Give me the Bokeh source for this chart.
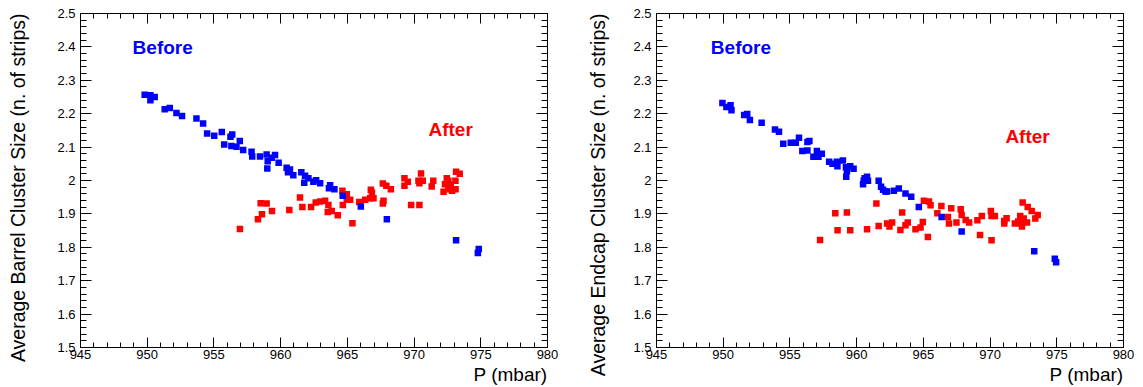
import math
from bokeh.plotting import figure
from bokeh.layouts import row
from bokeh.models import (Range1d, LinearAxis, SingleIntervalTicker, Label, Title,
                          CustomJSTickFormatter)
from bokeh.embed import file_html
from bokeh.resources import INLINE

# ---------------- data ----------------
barrel_before_p = [949.81, 950.24, 950.56, 950.24, 951.31, 951.69, 952.19, 952.61, 953.69, 954.19,
                   954.49, 955.02, 955.59, 956.37, 956.24, 955.77, 956.31, 956.69, 956.94, 957.19,
                   957.82, 957.87, 958.45, 958.95, 959.58, 959.33, 959.03, 959.00, 959.85, 960.45,
                   960.70, 960.55, 960.95, 961.55, 961.83, 962.08, 961.77, 962.45, 962.66, 962.96,
                   963.71, 963.62, 964.03, 964.65, 966.01, 967.96, 973.15, 974.85, 974.78]
barrel_before_cs = [2.257, 2.255, 2.250, 2.240, 2.213, 2.217, 2.202, 2.193, 2.186, 2.171,
                    2.141, 2.134, 2.145, 2.138, 2.131, 2.108, 2.103, 2.101, 2.118, 2.091,
                    2.086, 2.072, 2.072, 2.078, 2.076, 2.068, 2.058, 2.036, 2.053, 2.038,
                    2.033, 2.025, 2.016, 2.025, 2.014, 2.007, 1.993, 1.996, 2.001, 1.992,
                    1.986, 1.977, 1.974, 1.954, 1.922, 1.884, 1.821, 1.795, 1.783]

barrel_after_p = [956.95, 958.30, 958.60, 958.50, 958.95, 959.35, 960.65, 961.45, 961.63, 962.28,
                  962.63, 962.96, 963.33, 963.58, 963.53, 963.83, 964.28, 964.63, 964.96, 964.66,
                  965.21, 964.96, 965.38, 965.89, 966.34, 966.71, 966.96, 966.76, 966.84, 967.66,
                  967.92, 968.26, 967.71, 967.66, 969.28, 969.53, 969.28, 969.78, 970.40, 970.52,
                  970.33, 970.65, 970.40, 971.44, 971.32, 972.45, 972.57, 972.32, 972.75, 972.57,
                  972.21, 973.11, 972.85, 973.15, 973.42, 973.10]
barrel_after_cs = [1.855, 1.884, 1.899, 1.932, 1.931, 1.909, 1.912, 1.949, 1.921, 1.921,
                   1.934, 1.937, 1.939, 1.927, 1.906, 1.909, 1.896, 1.969, 1.959, 1.927,
                   1.942, 1.942, 1.872, 1.936, 1.942, 1.947, 1.947, 1.972, 1.964, 1.991,
                   1.984, 1.974, 1.939, 1.931, 2.007, 1.996, 1.984, 1.927, 1.927, 2.021,
                   1.999, 1.999, 1.992, 1.999, 1.982, 2.007, 1.999, 1.989, 1.987, 1.974,
                   1.966, 1.974, 1.969, 2.026, 2.020, 1.999]

endcap_before_p = [949.94, 950.24, 950.55, 950.62, 951.57, 951.80, 952.00, 952.88, 953.88, 954.18,
                   954.50, 955.06, 955.44, 955.68, 956.31, 956.46, 955.93, 956.31, 957.02, 957.39,
                   956.76, 957.14, 957.94, 958.19, 958.52, 958.56, 958.97, 959.20, 959.52, 959.77,
                   959.27, 959.22, 960.78, 960.60, 960.53, 960.48, 960.85, 961.65, 961.83, 961.98,
                   962.28, 962.16, 962.79, 963.16, 963.66, 964.09, 964.66, 966.37, 967.87, 973.31,
                   974.85, 974.95]
endcap_before_cs = [2.232, 2.220, 2.225, 2.210, 2.196, 2.199, 2.181, 2.173, 2.153, 2.146,
                    2.110, 2.113, 2.113, 2.128, 2.115, 2.118, 2.088, 2.090, 2.088, 2.080,
                    2.071, 2.071, 2.056, 2.050, 2.056, 2.043, 2.060, 2.040, 2.043, 2.035,
                    2.028, 2.011, 2.011, 2.007, 1.999, 1.989, 1.999, 1.999, 1.981, 1.972,
                    1.967, 1.967, 1.969, 1.976, 1.961, 1.951, 1.921, 1.891, 1.847, 1.788,
                    1.766, 1.755]

endcap_after_p = [957.26, 958.40, 959.27, 958.57, 959.52, 960.78, 961.48, 961.65, 962.28, 962.46,
                  962.66, 963.28, 963.41, 963.66, 963.83, 964.41, 964.79, 964.96, 965.34, 965.04,
                  965.42, 965.54, 966.35, 966.05, 966.84, 967.09, 966.92, 967.48, 967.80, 967.87,
                  968.17, 968.43, 969.05, 969.38, 969.25, 970.06, 970.11, 970.36, 970.11, 971.06,
                  971.24, 971.06, 971.86, 972.26, 972.11, 972.31, 972.52, 972.77, 972.39, 972.44,
                  972.82, 973.12, 973.57, 973.39]
endcap_after_cs = [1.822, 1.902, 1.904, 1.851, 1.851, 1.854, 1.931, 1.864, 1.871, 1.862,
                   1.874, 1.852, 1.904, 1.866, 1.874, 1.854, 1.859, 1.876, 1.831, 1.939,
                   1.937, 1.926, 1.924, 1.902, 1.891, 1.917, 1.871, 1.874, 1.914, 1.897,
                   1.882, 1.874, 1.881, 1.894, 1.837, 1.909, 1.894, 1.894, 1.821, 1.879,
                   1.887, 1.871, 1.871, 1.894, 1.877, 1.871, 1.886, 1.874, 1.862, 1.934,
                   1.921, 1.909, 1.897, 1.886]

x_title = "P (mbar)"
y_titles = ["Average Barrel Cluster Size (n. of strips)",
            "Average Endcap Cluster Size (n. of strips)"]
x_min, x_max = 945, 980
y_min, y_max = 1.5, 2.5

FONT = "Liberation Sans"
BLANK = CustomJSTickFormatter(code="return '';")


def make_plot(width, border_left, border_right, before_p, before_cs, after_p, after_cs,
              ytitle, ytitle_gap, before_xy, after_xy):
    p = figure(width=width, height=386, output_backend="svg", toolbar_location=None,
               x_range=Range1d(x_min, x_max), y_range=Range1d(y_min, y_max),
               min_border_left=border_left, min_border_right=border_right,
               min_border_top=13, min_border_bottom=39, background_fill_color="white",
               border_fill_color="white")
    p.xgrid.visible = False
    p.ygrid.visible = False
    p.outline_line_color = "black"
    p.outline_line_width = 1

    xa = p.xaxis[0]
    xa.ticker = SingleIntervalTicker(interval=5, num_minor_ticks=5)
    ya = p.yaxis[0]
    ya.ticker = SingleIntervalTicker(interval=0.1, num_minor_ticks=5)
    ya.formatter = CustomJSTickFormatter(code="return (Math.round(tick*10)/10).toString();")

    for ax in (xa, ya):
        ax.axis_line_color = "black"
        ax.major_tick_line_color = "black"
        ax.minor_tick_line_color = "black"
        ax.major_tick_out = 0
        ax.minor_tick_out = 0
        ax.major_label_text_font = FONT
        ax.major_label_text_font_size = "13px"
        ax.major_label_text_color = "black"
    xa.major_tick_in = 10
    xa.minor_tick_in = 5
    xa.major_label_standoff = 2
    ya.major_tick_in = 11
    ya.minor_tick_in = 6
    ya.major_label_standoff = 5
    # blank axis label used only as a spacer between tick labels and the title
    ya.axis_label = " "
    ya.axis_label_text_font_size = "1px"
    ya.axis_label_standoff = ytitle_gap

    # mirrored axes (ticks only) on top and right
    top = LinearAxis(ticker=SingleIntervalTicker(interval=5, num_minor_ticks=5),
                     formatter=BLANK, major_tick_in=10, minor_tick_in=5,
                     major_tick_out=0, minor_tick_out=0,
                     major_label_text_font_size="1px", major_label_standoff=0,
                     axis_line_color="black")
    right = LinearAxis(ticker=SingleIntervalTicker(interval=0.1, num_minor_ticks=5),
                       formatter=BLANK, major_tick_in=11, minor_tick_in=6,
                       major_tick_out=0, minor_tick_out=0,
                       major_label_text_font_size="1px", major_label_standoff=0,
                       axis_line_color="black")
    p.add_layout(top, "above")
    p.add_layout(right, "right")

    p.scatter(after_p, after_cs, marker="square", size=6.5, fill_color="#ff0000",
              line_color=None)
    p.scatter(before_p, before_cs, marker="square", size=6.5, fill_color="#0000ff",
              line_color=None)

    p.add_layout(Label(x=before_xy[0], y=before_xy[1], text="Before", text_align="center",
                       text_baseline="alphabetic", text_font=FONT, text_font_size="19px",
                       text_font_style="bold", text_color="#0000ff"))
    p.add_layout(Label(x=after_xy[0], y=after_xy[1], text="After", text_align="center",
                       text_baseline="alphabetic", text_font=FONT, text_font_size="19px",
                       text_font_style="bold", text_color="#ff0000"))

    # axis titles, right / top aligned as in the original
    p.add_layout(Title(text=x_title, align="right", text_font=FONT, text_font_size="19px",
                       text_font_style="normal", text_color="black", standoff=0,
                       offset=0), "below")
    p.add_layout(Title(text=ytitle, align="right", text_font=FONT, text_font_size="19.5px",
                       text_font_style="normal", text_color="black",
                       standoff=0, offset=0), "left")
    return p


p1 = make_plot(578, 80, 31, barrel_before_p, barrel_before_cs, barrel_after_p, barrel_after_cs,
               y_titles[0], 22, (951.16, 2.397), (972.74, 2.153))
p2 = make_plot(563, 78, 18, endcap_before_p, endcap_before_cs, endcap_after_p, endcap_after_cs,
               y_titles[1], 18, (951.33, 2.397), (972.81, 2.133))

layout = row(p1, p2)
open("out.html", "w").write(file_html(layout, INLINE))
